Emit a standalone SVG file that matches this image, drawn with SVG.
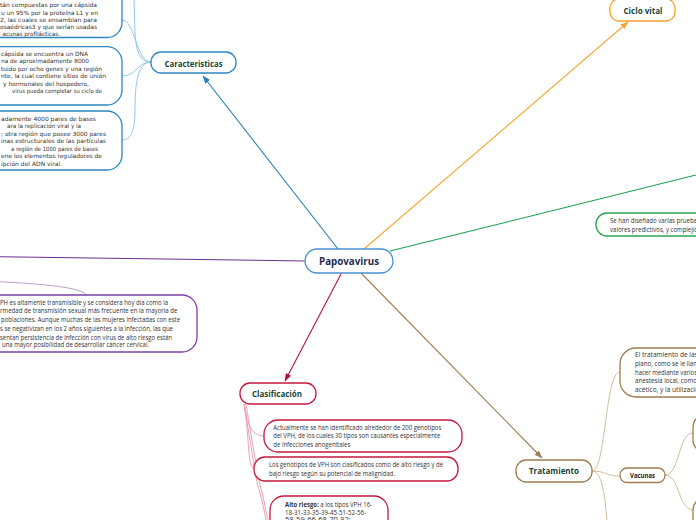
<svg xmlns="http://www.w3.org/2000/svg" width="696" height="520" viewBox="0 0 696 520">
<style>
.lbl{font-family:"Open Sans","Liberation Sans",sans-serif;font-weight:700;fill:#17473a;text-anchor:middle}
.bt{font-family:"DejaVu Sans","Liberation Sans",sans-serif;font-size:5.8px;fill:#333}
.st{font-family:"Open Sans","Liberation Sans",sans-serif;font-size:6.3px;fill:#333}
.node{fill:#fff;stroke-width:1.3}
.conn{fill:none;stroke-width:1.1}
</style>
<defs>
<marker id="mb" markerWidth="8" markerHeight="6" refX="7.5" refY="3" orient="auto" markerUnits="userSpaceOnUse"><path d="M0,0 L8,3 L0,6 z" fill="#2a7fb8"/></marker>
<marker id="mo" markerWidth="8" markerHeight="6" refX="7.5" refY="3" orient="auto" markerUnits="userSpaceOnUse"><path d="M0,0 L8,3 L0,6 z" fill="#f7a632"/></marker>
<marker id="mr" markerWidth="8" markerHeight="6" refX="7.5" refY="3" orient="auto" markerUnits="userSpaceOnUse"><path d="M0,0 L8,3 L0,6 z" fill="#b8123c"/></marker>
<marker id="mt" markerWidth="8" markerHeight="6" refX="7.5" refY="3" orient="auto" markerUnits="userSpaceOnUse"><path d="M0,0 L8,3 L0,6 z" fill="#9c7e4f"/></marker>
</defs>

<g id="connectors">
<path class="conn" d="M338,249 L203,76" stroke="#2a7fb8" marker-end="url(#mb)"/>
<path class="conn" d="M364,249 L628,22" stroke="#f7a632" marker-end="url(#mo)"/>
<path class="conn" d="M390,251 L696,175" stroke="#1aa050"/>
<path class="conn" d="M305,261 L0,256.7" stroke="#6b2f96" stroke-width="1.4"/>
<path class="conn" d="M341,274 L285,381" stroke="#b8123c" marker-end="url(#mr)"/>
<path class="conn" d="M361,273 L542,458" stroke="#9c7e4f" marker-end="url(#mt)"/>
<!-- Caracteristicas children -->
<g stroke="#92c7ea" fill="none" stroke-width="1">
<path d="M151,62 C139,62 136,50 135,32 L134,0"/>
<path d="M151,62 C136,62 135,20 122,20"/>
<path d="M151,62 C137,62 137,76 122,76"/>
<path d="M151,62 C138,62 135,82 135,110 C135,130 131,140 122,140"/>
</g>
<!-- purple child -->
<path d="M0,281.7 C40,284 82,287 86,295" fill="none" stroke="#b9a0d2" stroke-width="1"/>
<!-- Clasificacion children -->
<g stroke="#e8a3b3" fill="none" stroke-width="1">
<path d="M244,404 C248,422 249,436 265,436"/>
<path d="M244,404 C250,440 247,469 255,469"/>
<path d="M244,404 C252,450 255,476 258,486 C262,498 264,510 266,520"/>
<path d="M246,404 C254,452 258,478 261,488 C264,500 266,512 268,520"/>
</g>
<!-- Tratamiento children -->
<g stroke="#d2bf9a" fill="none" stroke-width="1">
<path d="M592,471 C606,471 605,372 620,372"/>
<path d="M592,471 C606,471 606,476 619,476"/>
<path d="M592,471 C603,471 605,500 607,520"/>
<path d="M665,475 C680,475 678,433 693,433"/>
<path d="M665,475 C680,475 678,510 693,510"/>
</g>
</g>

<g id="papovavirus">
<rect class="node" x="305" y="249" width="88" height="24" rx="12" stroke="#4a90d0"/>
<text class="lbl" x="349" y="265" font-size="10.5" fill="#1d2f4f" style="fill:#1d2f4f" textLength="60" lengthAdjust="spacingAndGlyphs">Papovavirus</text>
</g>

<g id="caracteristicas">
<rect class="node" x="151" y="52" width="85" height="21" rx="10" stroke="#2e86c1"/>
<text class="lbl" x="193.5" y="66.5" font-size="8" textLength="58" lengthAdjust="spacingAndGlyphs">Caracteristicas</text>
</g>

<g id="ciclo-vital">
<rect class="node" x="610" y="-1" width="65" height="22" rx="9" stroke="#f5a030"/>
<text class="lbl" x="643" y="14" font-size="8" textLength="39" lengthAdjust="spacingAndGlyphs">Ciclo vital</text>
</g>

<g id="clasificacion">
<rect class="node" x="240" y="383" width="76" height="21" rx="10" stroke="#c4183c"/>
<text class="lbl" x="277" y="397" font-size="8" textLength="50" lengthAdjust="spacingAndGlyphs">Clasificación</text>
</g>

<g id="tratamiento">
<rect class="node" x="516" y="460" width="76" height="22" rx="10" stroke="#9c7e4f"/>
<text class="lbl" x="554" y="474" font-size="8" textLength="50" lengthAdjust="spacingAndGlyphs">Tratamiento</text>
</g>

<g id="vacunas">
<rect class="node" x="620" y="468" width="45" height="14.5" rx="7" stroke="#9c7e4f"/>
<text class="lbl" x="642.5" y="478.3" font-size="6.5" style="fill:#222" textLength="25" lengthAdjust="spacingAndGlyphs">Vacunas</text>
</g>

<g id="vacunas-child-1">
<rect class="node" x="693" y="415" width="40" height="37" rx="12" stroke="#9c7e4f"/>
</g>
<g id="vacunas-child-2">
<rect class="node" x="693" y="498" width="40" height="40" rx="12" stroke="#9c7e4f"/>
</g>

<g id="car-box-1">
<rect class="node" x="-20" y="-20" width="142" height="57.5" rx="15" stroke="#2e86c1"/>
<text class="bt" x="0" y="6.5" textLength="97" lengthAdjust="spacingAndGlyphs">tán compuestas por una cápsida</text>
<text class="bt" x="1" y="14.5" textLength="97" lengthAdjust="spacingAndGlyphs">u un 95% por la proteína L1 y en</text>
<text class="bt" x="0" y="21.7" textLength="97" lengthAdjust="spacingAndGlyphs">2, las cuales se ensamblan para</text>
<text class="bt" x="0" y="28.9" textLength="97" lengthAdjust="spacingAndGlyphs">osaédricas3 y que serían usadas</text>
<text class="bt" x="2.5" y="35.9" textLength="57.5" lengthAdjust="spacingAndGlyphs">acunas profilácticas.</text>
</g>

<g id="car-box-2">
<rect class="node" x="-20" y="46.7" width="142" height="58.3" rx="15" stroke="#2e86c1"/>
<text class="bt" x="1" y="55.5" textLength="87" lengthAdjust="spacingAndGlyphs">cápsida se encuentra un DNA</text>
<text class="bt" x="1" y="63.2" textLength="88" lengthAdjust="spacingAndGlyphs">na de aproximadamente 8000</text>
<text class="bt" x="1" y="70.9" textLength="101" lengthAdjust="spacingAndGlyphs">tuido por ocho genes y una región</text>
<text class="bt" x="1" y="78.2" textLength="105" lengthAdjust="spacingAndGlyphs">nte, la cual contiene sitios de unión</text>
<text class="bt" x="3" y="85.5" textLength="86" lengthAdjust="spacingAndGlyphs">y hormonales del hospedero,</text>
<text class="bt" x="12" y="92.9" textLength="90" lengthAdjust="spacingAndGlyphs">virus pueda completar su ciclo de</text>
</g>

<g id="car-box-3">
<rect class="node" x="-20" y="111" width="142" height="59" rx="15" stroke="#2e86c1"/>
<text class="bt" x="1" y="120.5" textLength="95" lengthAdjust="spacingAndGlyphs">adamente 4000 pares de bases</text>
<text class="bt" x="7" y="127.9" textLength="74" lengthAdjust="spacingAndGlyphs">ara la replicación viral y la</text>
<text class="bt" x="1" y="135.5" textLength="105" lengthAdjust="spacingAndGlyphs">; otra región que posee 3000 pares</text>
<text class="bt" x="1" y="143.2" textLength="105" lengthAdjust="spacingAndGlyphs">inas estructurales de las partículas</text>
<text class="bt" x="11" y="150.9" textLength="87" lengthAdjust="spacingAndGlyphs">a región de 1000 pares de bases</text>
<text class="bt" x="1" y="158.2" textLength="101" lengthAdjust="spacingAndGlyphs">ene los elementos reguladores de</text>
<text class="bt" x="1" y="165.5" textLength="61" lengthAdjust="spacingAndGlyphs">ipción del ADN viral.</text>
</g>

<g id="green-box">
<rect class="node" x="596" y="213" width="130" height="23" rx="11" stroke="#2aa552"/>
<text class="st" x="610" y="222.5" textLength="87" lengthAdjust="spacingAndGlyphs">Se han diseñado varias prueba</text>
<text class="st" x="610" y="231.5" textLength="88" lengthAdjust="spacingAndGlyphs">valores predictivos, y complejid</text>
</g>

<g id="purple-box">
<rect class="node" x="-15" y="295" width="212" height="57" rx="15" stroke="#7b3fa3"/>
<text class="st" x="0" y="304.5" textLength="168" lengthAdjust="spacingAndGlyphs">PH es altamente transmisible y se considera hoy día como la</text>
<text class="st" x="0" y="313.2" textLength="177.5" lengthAdjust="spacingAndGlyphs">rmedad de transmisión sexual más frecuente en la mayoría de</text>
<text class="st" x="1" y="322.2" textLength="179" lengthAdjust="spacingAndGlyphs">poblaciones. Aunque muchas de las mujeres infectadas con este</text>
<text class="st" x="0" y="330.9" textLength="173" lengthAdjust="spacingAndGlyphs">s se negativizan en los 2 años siguientes a la infección, las que</text>
<text class="st" x="0" y="339.5" textLength="172" lengthAdjust="spacingAndGlyphs">sentan persistencia de infección con virus de alto riesgo están</text>
<text class="st" x="2" y="346.9" textLength="147" lengthAdjust="spacingAndGlyphs">una mayor posibilidad de desarrollar cáncer cervical.</text>
</g>

<g id="clas-box-1">
<rect class="node" x="264" y="420" width="198" height="32" rx="14" stroke="#c4183c"/>
<text class="st" x="273.3" y="429.5" textLength="168" lengthAdjust="spacingAndGlyphs">Actualmente se han identificado alrededor de 200 genotipos</text>
<text class="st" x="273.3" y="438" textLength="167" lengthAdjust="spacingAndGlyphs">del VPH, de los cuales 30 tipos son causantes especialmente</text>
<text class="st" x="273.3" y="446.9" textLength="77" lengthAdjust="spacingAndGlyphs">de infecciones anogenitales</text>
</g>

<g id="clas-box-2">
<rect class="node" x="254" y="457" width="204" height="24" rx="11" stroke="#c4183c"/>
<text class="st" x="269" y="467.2" textLength="174" lengthAdjust="spacingAndGlyphs">Los genotipos de VPH son clasificados como de alto riesgo y de</text>
<text class="st" x="269" y="476.2" textLength="126" lengthAdjust="spacingAndGlyphs">bajo riesgo según su potencial de malignidad.</text>
</g>

<g id="clas-box-3">
<rect class="node" x="270" y="496" width="118" height="40" rx="14" stroke="#c4183c"/>
<text class="st" x="285" y="506.5" textLength="87" lengthAdjust="spacingAndGlyphs"><tspan font-weight="700">Alto riesgo:</tspan> a los tipos VPH 16-</text>
<text class="st" x="285" y="514.5" textLength="81" lengthAdjust="spacingAndGlyphs">18-31-33-35-39-45-51-52-56-</text>
<text class="st" x="285" y="522.2" textLength="66" lengthAdjust="spacingAndGlyphs">58-59-66-68-70-82;</text>
</g>

<g id="trat-box-1">
<rect class="node" x="620" y="348" width="110" height="49" rx="16" stroke="#9c7e4f"/>
<text class="st" x="635" y="357.2" textLength="66" lengthAdjust="spacingAndGlyphs">El tratamiento de las l</text>
<text class="st" x="635" y="365.5" textLength="64" lengthAdjust="spacingAndGlyphs">plano, como se le llam</text>
<text class="st" x="635" y="374.5" textLength="62" lengthAdjust="spacingAndGlyphs">hacer mediante varios</text>
<text class="st" x="635" y="383" textLength="62" lengthAdjust="spacingAndGlyphs">anestesia local, como</text>
<text class="st" x="635" y="391.5" textLength="68" lengthAdjust="spacingAndGlyphs">acético, y la utilización</text>
</g>
</svg>
